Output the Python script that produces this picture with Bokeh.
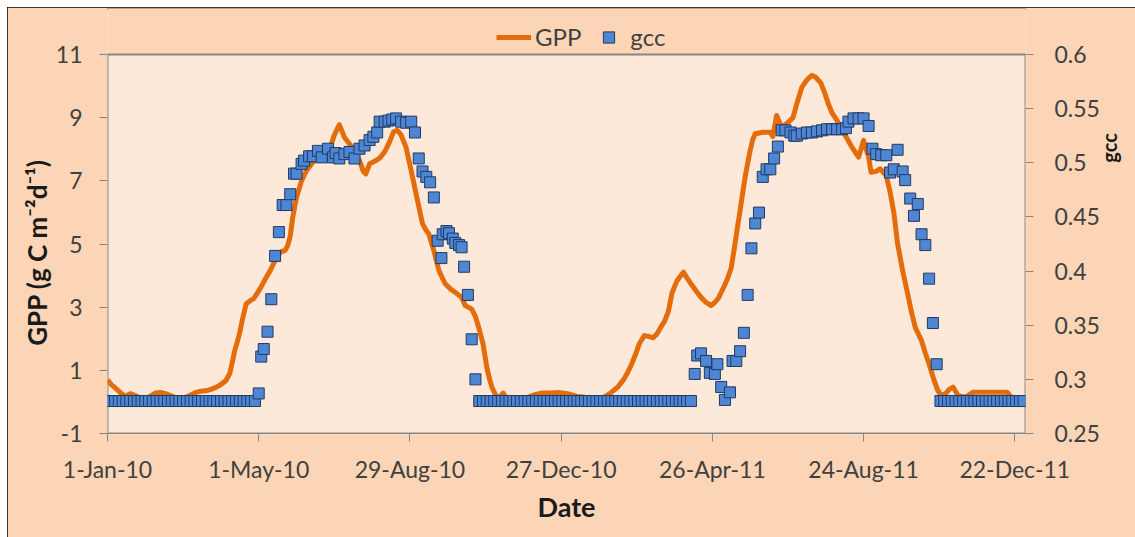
import math
from bokeh.plotting import figure
from bokeh.models import (Range1d, LinearAxis, FixedTicker, NumeralTickFormatter,
                          Legend, LegendItem, ColumnDataSource, BoxAnnotation)
from bokeh.embed import file_html
from bokeh.resources import INLINE

# ---------------- data (x = days since 1-Jan-2010) ----------------
x_tick_days = [0, 120, 240, 360, 480, 600, 720]
x_tick_labels = ["1-Jan-10", "1-May-10", "29-Aug-10", "27-Dec-10",
                 "26-Apr-11", "24-Aug-11", "22-Dec-11"]
gpp_ticks = [-1, 1, 3, 5, 7, 9, 11]
gcc_ticks = [0.25, 0.30, 0.35, 0.40, 0.45, 0.50, 0.55, 0.60]

gpp_day = [0, 3, 6, 10, 14, 18, 22, 26, 30, 34, 38, 42, 46, 50, 54, 58, 62, 66, 70, 74,
           78, 82, 86, 90, 94, 97, 99, 101, 103, 105, 107, 110, 113, 116, 119, 122, 126,
           129, 132, 135, 138, 141, 143, 145, 147, 150, 154, 158, 163, 168, 172, 176, 180,
           184, 188, 193, 197, 200, 203, 205, 208, 212, 216, 220, 224, 227, 230, 233, 237,
           240, 243, 246, 250, 253, 255, 257, 259, 263, 266, 268, 272, 276, 281, 284, 289,
           292, 295, 298, 301, 303, 305, 308, 311, 314, 316, 320, 326, 334, 340, 345, 352,
           358, 365, 372, 379, 386, 394, 397, 400, 405, 410, 413, 416, 419, 422, 426, 429,
           433, 436, 439, 442, 445, 448, 450, 452, 455, 457, 460, 463, 467, 471, 475, 479,
           482, 485, 489, 492, 495, 498, 500, 502, 504, 506, 508, 510, 512, 514, 520, 526,
           528, 531, 535, 539, 544, 547, 551, 555, 559, 562, 566, 569, 572, 575, 579, 583,
           587, 591, 596, 600, 604, 606, 610, 613, 618, 621, 624, 627, 631, 635, 638, 641,
           646, 649, 652, 656, 659, 662, 665, 668, 671, 675, 681, 687, 700, 714, 717]
gpp_value = [0.70, 0.55, 0.45, 0.30, 0.18, 0.26, 0.20, 0.12, 0.10, 0.18, 0.28, 0.30, 0.26,
             0.20, 0.14, 0.12, 0.15, 0.22, 0.30, 0.34, 0.35, 0.40, 0.46, 0.55, 0.68, 0.90,
             1.25, 1.63, 1.90, 2.20, 2.60, 3.10, 3.20, 3.27, 3.45, 3.65, 3.95, 4.15, 4.40,
             4.65, 4.76, 4.80, 4.95, 5.25, 5.85, 6.48, 7.00, 7.33, 7.59, 7.75, 7.85, 7.96,
             8.45, 8.78, 8.38, 8.12, 7.90, 7.64, 7.30, 7.22, 7.54, 7.62, 7.72, 7.92, 8.25,
             8.55, 8.60, 8.45, 8.05, 7.50, 6.95, 6.38, 5.64, 5.42, 5.32, 5.05, 4.79, 4.16,
             3.90, 3.74, 3.58, 3.47, 3.31, 3.05, 2.94, 2.70, 2.30, 1.84, 1.10, 0.75, 0.47,
             0.22, 0.14, 0.28, 0.15, 0.05, 0.08, 0.15, 0.24, 0.28, 0.28, 0.30, 0.26, 0.18,
             0.15, 0.14, 0.15, 0.22, 0.31, 0.47, 0.73, 0.95, 1.20, 1.50, 1.84, 2.10, 2.08,
             2.03, 2.15, 2.36, 2.55, 2.85, 3.45, 3.65, 3.84, 4.00, 4.11, 3.92, 3.74, 3.52,
             3.31, 3.15, 3.05, 3.15, 3.30, 3.63, 3.90, 4.25, 5.01, 5.55, 6.06, 6.60, 7.12,
             7.55, 7.96, 8.30, 8.49, 8.54, 8.54, 8.40, 9.07, 8.70, 8.81, 9.00, 9.44, 9.96,
             10.20, 10.34, 10.28, 10.10, 9.80, 9.44, 9.15, 8.91, 8.60, 8.33, 8.05, 7.75,
             8.28, 7.75, 7.27, 7.30, 7.38, 7.17, 6.65, 6.00, 5.01, 4.16, 3.42, 2.85, 2.36,
             1.94, 1.55, 1.20, 0.68, 0.35, 0.20, 0.26, 0.40, 0.47, 0.20, 0.15, 0.31, 0.31,
             0.31, 0.15]

gcc_day = [0, 3, 6, 9, 12, 15, 18, 21, 24, 27, 30, 33, 36, 39, 42, 45, 48, 51, 54, 57,
           60, 63, 66, 69, 72, 75, 78, 81, 84, 87, 90, 93, 96, 99, 102, 105, 108, 111, 114, 117,
           120, 122, 124, 127, 130, 133, 136, 139, 142, 145, 148, 150, 154, 156, 160, 163,
           167, 170, 175, 179, 181, 184, 188, 192, 196, 200, 204, 208, 211, 214, 216, 220,
           223, 226, 229, 233, 237, 241, 244, 247, 250, 253, 256, 259, 262, 265, 266, 269,
           271, 274, 276, 279, 281, 283, 286, 289, 292,
           295, 298, 301, 304, 307, 310, 313, 316, 319, 322, 325, 328, 331, 334, 337, 340,
           343, 346, 349, 352, 355, 358, 361, 364, 367, 370, 373, 376, 379, 382, 385, 388,
           391, 394, 397, 400, 403, 406, 409, 412, 415, 418, 421, 424, 427, 430, 433, 436,
           439, 442, 445, 448, 451, 454, 457, 460, 463,
           466, 468, 471, 475, 478, 482, 484, 487, 490, 494, 496, 499, 502, 505, 508, 511,
           514, 517, 520, 523, 526, 529, 532, 535, 538, 542, 545, 547, 551, 555, 559, 563,
           567, 571, 575, 579, 583, 586, 588, 592, 596, 600, 604, 607, 610, 614, 618, 621,
           624, 627, 631, 633, 637, 640, 643, 646, 649, 652, 655, 658,
           661, 664, 667, 670, 673, 676, 679, 682, 685, 688, 691, 694, 697, 700, 703, 706,
           709, 712, 715, 718, 721, 724, 727]
gcc_value = [0.28, 0.28, 0.28, 0.28, 0.28, 0.28, 0.28, 0.28, 0.28, 0.28, 0.28, 0.28, 0.28,
             0.28, 0.28, 0.28, 0.28, 0.28, 0.28, 0.28, 0.28, 0.28, 0.28, 0.28, 0.28, 0.28,
             0.28, 0.28, 0.28, 0.28, 0.28, 0.28, 0.28, 0.28, 0.28, 0.28, 0.28, 0.28, 0.28,
             0.28,
             0.287, 0.321, 0.328, 0.344, 0.374, 0.414, 0.436, 0.461, 0.461, 0.471, 0.490,
             0.490, 0.499, 0.502, 0.506, 0.506, 0.511, 0.505, 0.513, 0.505, 0.509, 0.504,
             0.508, 0.510, 0.504, 0.513, 0.516, 0.521, 0.524, 0.528, 0.538, 0.538, 0.539,
             0.540, 0.541, 0.538, 0.537, 0.538, 0.528, 0.504, 0.492, 0.487, 0.482, 0.468,
             0.428, 0.412, 0.434, 0.437, 0.435, 0.430, 0.426, 0.424, 0.422, 0.404, 0.378,
             0.337, 0.300,
             0.28, 0.28, 0.28, 0.28, 0.28, 0.28, 0.28, 0.28, 0.28, 0.28, 0.28, 0.28, 0.28,
             0.28, 0.28, 0.28, 0.28, 0.28, 0.28, 0.28, 0.28, 0.28, 0.28, 0.28, 0.28, 0.28,
             0.28, 0.28, 0.28, 0.28, 0.28, 0.28, 0.28, 0.28, 0.28, 0.28, 0.28, 0.28, 0.28,
             0.28, 0.28, 0.28, 0.28, 0.28, 0.28, 0.28, 0.28, 0.28, 0.28, 0.28, 0.28, 0.28,
             0.28, 0.28, 0.28, 0.28, 0.28,
             0.305, 0.322, 0.324, 0.317, 0.306, 0.305, 0.314, 0.293, 0.281, 0.288, 0.317,
             0.317, 0.326, 0.343, 0.378, 0.421, 0.444, 0.454, 0.487, 0.494, 0.494, 0.504,
             0.515, 0.530, 0.530, 0.528, 0.525, 0.525, 0.527, 0.528, 0.528, 0.529, 0.530,
             0.531, 0.531, 0.531, 0.531, 0.532, 0.538, 0.541, 0.541, 0.541, 0.534, 0.513,
             0.508, 0.507, 0.507, 0.491, 0.494, 0.512, 0.492, 0.484, 0.467, 0.451, 0.462,
             0.434, 0.424, 0.393, 0.352, 0.314,
             0.28, 0.28, 0.28, 0.28, 0.28, 0.28, 0.28, 0.28, 0.28, 0.28, 0.28, 0.28, 0.28,
             0.28, 0.28, 0.28, 0.28, 0.28, 0.28, 0.28, 0.28, 0.28, 0.28]

# ---------------- styles / layout ----------------
FONT = "Lato"
OUTER = "#FBD5B5"
INNER = "#FDE9D9"
ORANGE = "#E46C0A"
BLUE = "#4F86D4"
NAVY = "#1F3B63"
AXIS_C = "#868686"
TEXT_C = "#404040"

X_MAX = 728.5
GPP_MIN, GPP_MAX = -1, 11
GCC_MIN, GCC_MAX = 0.25, 0.6
# the frame also holds the legend strip above the plotting box (46 px)
GPP_TOP = 12.457
GCC_TOP = 0.6425

p = figure(width=1128, height=530,
           x_range=Range1d(0, X_MAX), y_range=Range1d(GPP_MIN, GPP_TOP),
           output_backend="svg", toolbar_location=None,
           min_border_left=100, min_border_right=105, min_border_top=1,
           min_border_bottom=104)
p.margin = (7, 0, 0, 7)
p.extra_y_ranges = {"gcc": Range1d(GCC_MIN, GCC_TOP)}

p.background_fill_color = OUTER
p.border_fill_color = OUTER
p.outline_line_color = None
p.xgrid.visible = False
p.ygrid.visible = False
p.styles = {"outline": "3px solid black", "outline-offset": "-3px"}

plot_box = BoxAnnotation(left=0, right=X_MAX, bottom=GPP_MIN, top=GPP_MAX,
                         fill_color=INNER, fill_alpha=1.0, line_color=AXIS_C,
                         line_width=2, line_alpha=1.0, level="underlay")
p.add_layout(plot_box)

line = p.line(gpp_day, gpp_value, line_color=ORANGE, line_width=5, line_join="round")
src = ColumnDataSource(dict(x=gcc_day, y=gcc_value))
sq = p.scatter("x", "y", source=src, marker="square", size=11, fill_color=BLUE,
               line_color=NAVY, line_width=1, y_range_name="gcc")

def style_axis(ax):
    ax.axis_line_color = AXIS_C
    ax.major_tick_line_color = AXIS_C
    ax.major_tick_in = 0
    ax.major_tick_out = 8
    ax.minor_tick_line_color = None
    ax.major_label_text_font = FONT
    ax.major_label_text_font_size = "23px"
    ax.major_label_text_color = TEXT_C
    ax.axis_label_text_font = FONT
    ax.axis_label_text_font_style = "bold"
    ax.axis_label_text_color = "#1a1a1a"

xa = p.xaxis[0]
style_axis(xa)
xa.ticker = FixedTicker(ticks=x_tick_days)
xa.major_label_overrides = dict(zip(x_tick_days, x_tick_labels))
xa.axis_label = "Date"
xa.axis_label_text_font_size = "27px"
xa.major_label_standoff = 13
xa.axis_label_standoff = 4

NB = "\u00a0"
ya = p.yaxis[0]
style_axis(ya)
ya.axis_line_color = None
ya.ticker = FixedTicker(ticks=gpp_ticks)
ya.major_label_overrides = {-1: "-1"}
ya.axis_label = "GPP (g C m⁻²d⁻¹)" + NB * 10
ya.axis_label_text_font_size = "26px"
ya.major_label_standoff = 17
ya.axis_label_standoff = 0

ra = LinearAxis(y_range_name="gcc", ticker=FixedTicker(ticks=gcc_ticks),
                formatter=NumeralTickFormatter(format="0.[00]"),
                axis_label=NB * 12 + "gcc")
style_axis(ra)
ra.axis_line_color = None
ra.axis_label_text_font_size = "20px"
ra.major_label_standoff = 21
ra.axis_label_standoff = 6
try:
    ra.axis_label_orientation = math.pi / 2
except Exception:
    pass
p.add_layout(ra, "right")

legend = Legend(items=[LegendItem(label="GPP", renderers=[line]),
                       LegendItem(label="gcc", renderers=[sq])],
                orientation="horizontal", location=(386, 379),
                background_fill_alpha=0, border_line_alpha=0,
                label_text_font=FONT, label_text_font_size="24px",
                label_text_color=TEXT_C, glyph_width=35, glyph_height=28,
                spacing=10, padding=3, margin=0, label_standoff=4)
p.add_layout(legend)

open("out.html", "w").write(file_html(p, INLINE))
